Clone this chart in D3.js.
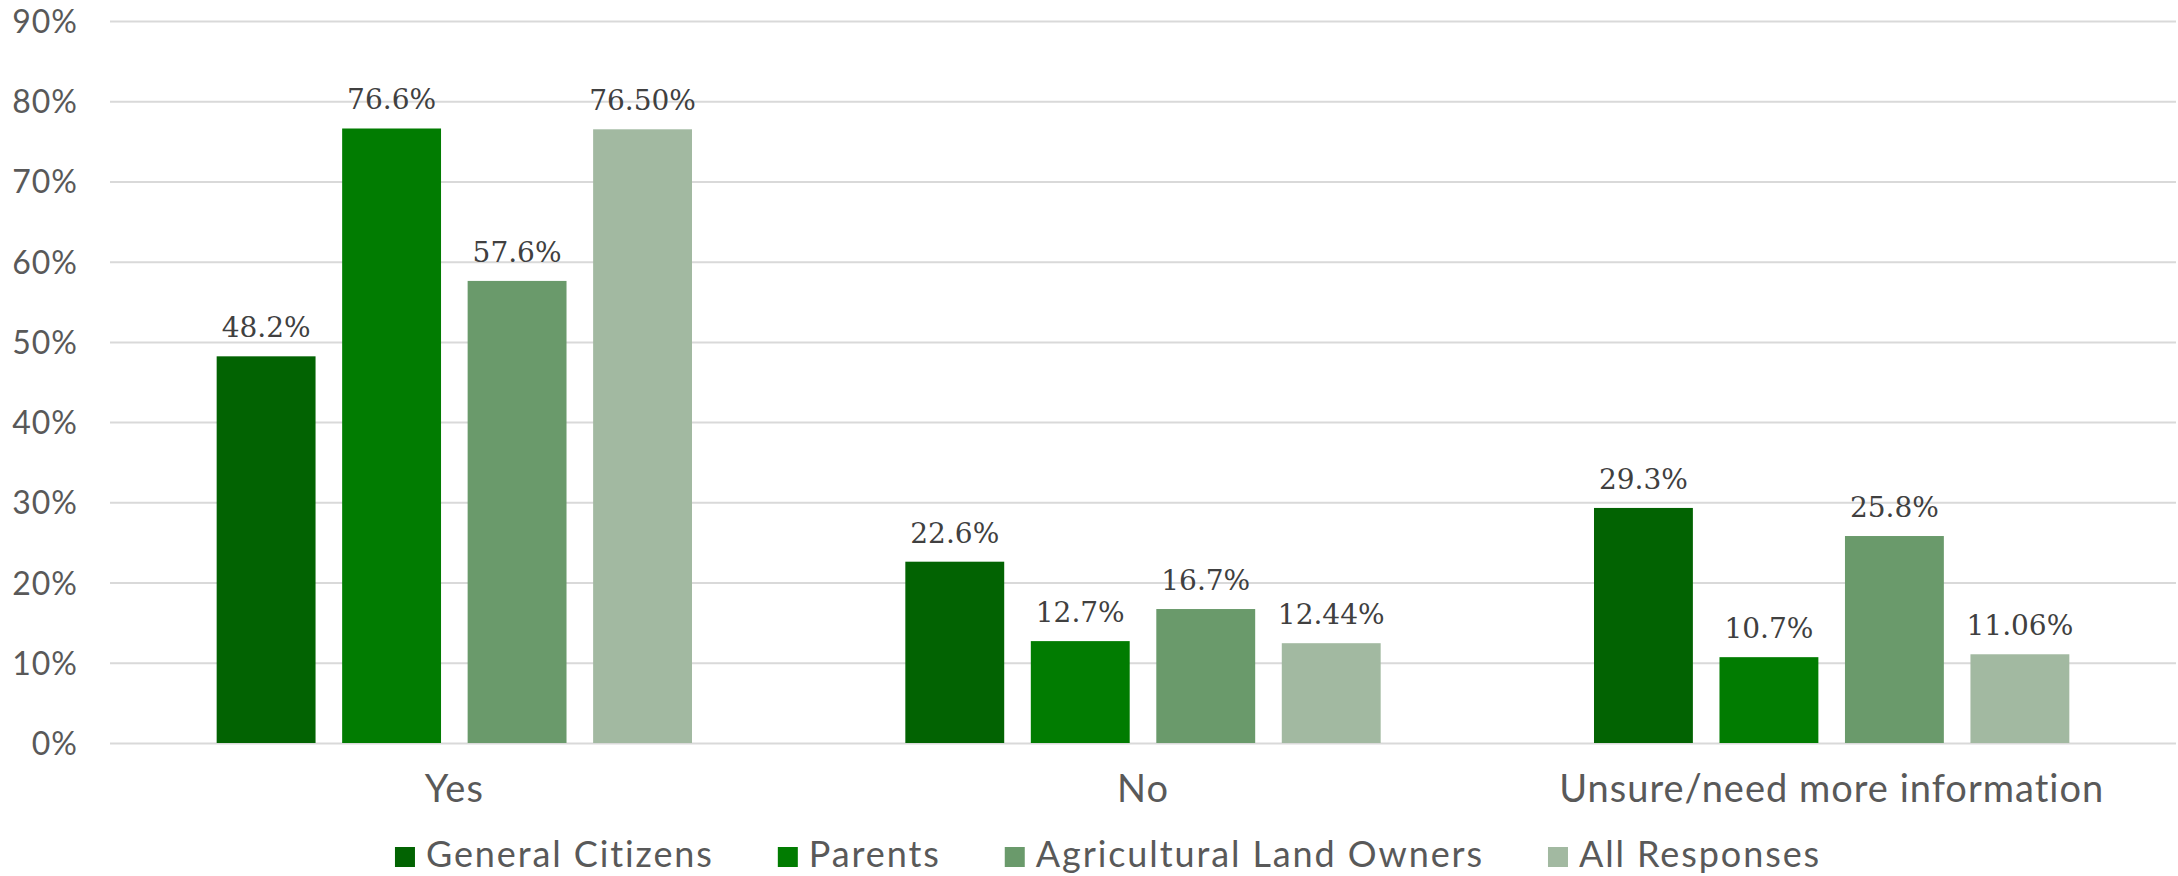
<!DOCTYPE html>
<html>
<head>
<meta charset="utf-8">
<script src="https://cdn.jsdelivr.net/npm/d3@7"></script>
<style>
  html, body { margin: 0; padding: 0; background: #fff; }
  svg { display: block; }
</style>
</head>
<body>
<svg id="chart" width="2178" height="876"></svg>
<script>
// ---- data ----
const categories = ["Yes", "No", "Unsure/need more information"];
const seriesNames = ["General Citizens", "Parents", "Agricultural Land Owners", "All Responses"];
const generalCitizens = [48.2, 22.6, 29.3];
const parents = [76.6, 12.7, 10.7];
const agriculturalLandOwners = [57.6, 16.7, 25.8];
const allResponses = [76.50, 12.44, 11.06];
const valueLabels = [
  ["48.2%", "22.6%", "29.3%"],
  ["76.6%", "12.7%", "10.7%"],
  ["57.6%", "16.7%", "25.8%"],
  ["76.50%", "12.44%", "11.06%"]
];
const yTicks = [0, 10, 20, 30, 40, 50, 60, 70, 80, 90];
const yTickLabels = ["0%", "10%", "20%", "30%", "40%", "50%", "60%", "70%", "80%", "90%"];
const colors = ["#026302", "#017c01", "#6a9a6b", "#a2b9a1"];

const seriesValues = [generalCitizens, parents, agriculturalLandOwners, allResponses];

// ---- layout ----
const svg = d3.select("#chart");
const plotLeft = 110, plotRight = 2176, plotTop = 21, plotBottom = 743;
const sansFont = "Lato, 'Open Sans', sans-serif";

const y = d3.scaleLinear().domain([0, 90]).range([plotBottom, plotTop]);
const x0 = d3.scaleBand().domain(categories).range([plotLeft, plotRight]).padding(0);
const x1 = d3.scaleBand().domain(seriesNames).range([0, x0.bandwidth()])
  .paddingInner(0.212).paddingOuter(0.85);

// gridlines + y tick labels
const yAxis = d3.axisLeft(y).tickValues(yTicks)
  .tickSize(-(plotRight - plotLeft))
  .tickFormat((d, i) => yTickLabels[i]);
const gy = svg.append("g").attr("transform", `translate(${plotLeft},0)`).call(yAxis);
gy.select(".domain").remove();
gy.selectAll(".tick line").attr("stroke", "#d9d9d9").attr("stroke-width", 2);
gy.selectAll(".tick text")
  .attr("x", -32).attr("dy", "0.36em")
  .attr("fill", "#595959")
  .style("font-family", sansFont)
  .style("font-size", "32px")
  .style("letter-spacing", "1px");

// bars
const groups = svg.append("g").selectAll("g")
  .data(seriesNames)
  .join("g")
  .attr("fill", (d, i) => colors[i]);

groups.each(function(sName, si) {
  const g = d3.select(this);
  const data = categories.map((c, ci) => ({ c, v: seriesValues[si][ci], label: valueLabels[si][ci] }));
  g.selectAll("rect").data(data).join("rect")
    .attr("x", d => x0(d.c) + x1(sName))
    .attr("y", d => y(d.v))
    .attr("width", x1.bandwidth())
    .attr("height", d => y(0) - y(d.v));
  g.selectAll("text").data(data).join("text")
    .attr("x", d => x0(d.c) + x1(sName) + x1.bandwidth() / 2)
    .attr("y", d => y(d.v) - 19)
    .attr("text-anchor", "middle")
    .attr("fill", "#404040")
    .style("font-family", "'DejaVu Serif', serif")
    .style("font-size", "28px")
    .text(d => d.label);
});

// x axis labels
const xAxis = d3.axisBottom(x0).tickSize(0).tickPadding(0);
const gx = svg.append("g").attr("transform", `translate(0,${plotBottom})`).call(xAxis);
gx.select(".domain").remove();
gx.selectAll(".tick text")
  .attr("y", 59).attr("dy", 0)
  .attr("fill", "#595959")
  .style("font-family", sansFont)
  .style("font-size", "38px")
  .style("letter-spacing", "1px");

// legend
const legend = svg.append("g");
const items = legend.selectAll("g").data(seriesNames).join("g");
items.append("rect").attr("width", 20).attr("height", 20).attr("y", 847)
  .attr("fill", (d, i) => colors[i]);
items.append("text").attr("x", 31).attr("y", 867)
  .attr("fill", "#595959")
  .style("font-family", sansFont)
  .style("font-size", "36px")
  .style("letter-spacing", "1.9px")
  .text(d => d);
let cursor = 0;
const offsets = [];
items.each(function() {
  const w = d3.select(this).select("text").node().getComputedTextLength();
  offsets.push(cursor);
  cursor += 31 + w + 64;
});
const total = cursor - 64;
const start = 1108 - total / 2;
items.attr("transform", (d, i) => `translate(${start + offsets[i]},0)`);
</script>
</body>
</html>
